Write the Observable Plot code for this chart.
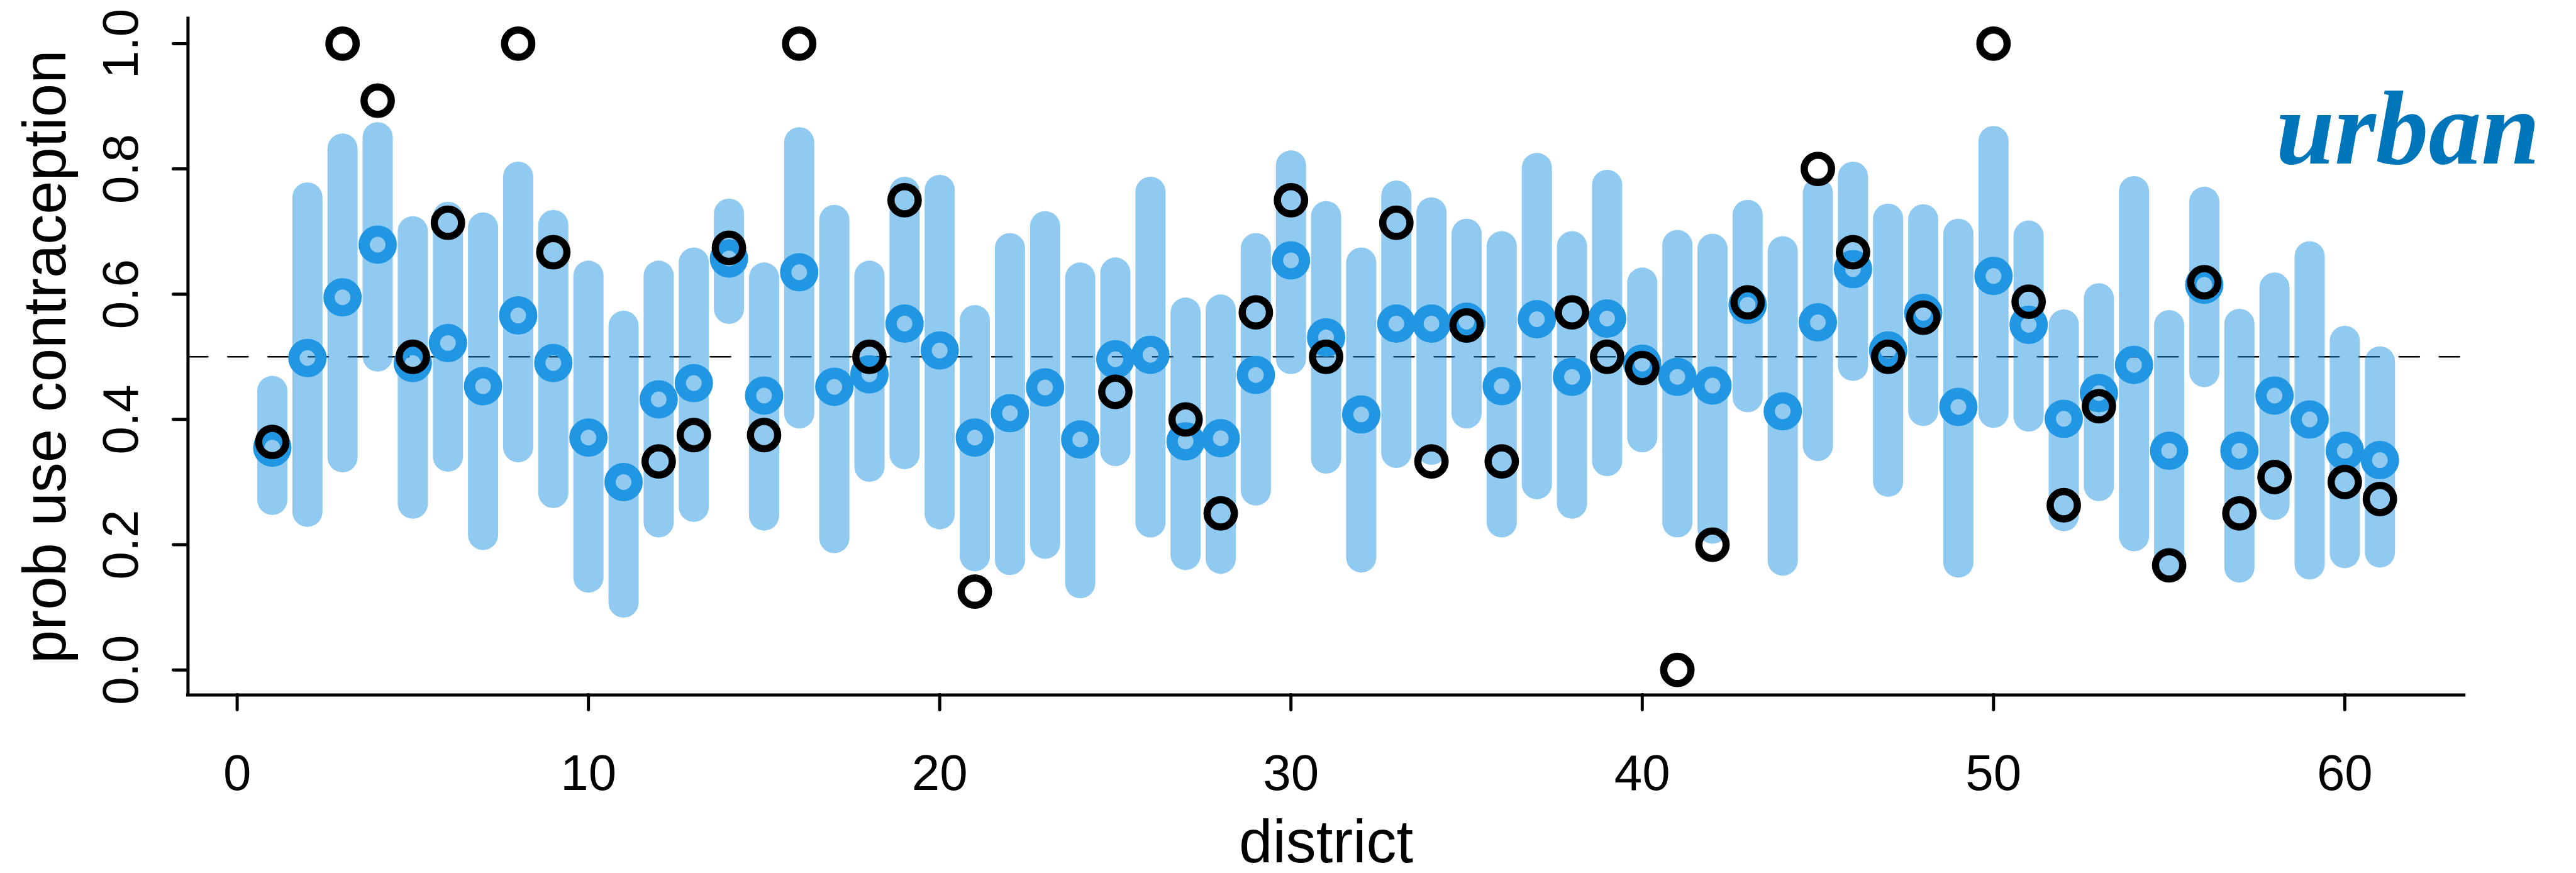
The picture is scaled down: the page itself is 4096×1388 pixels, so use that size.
<!DOCTYPE html>
<html>
<head>
<meta charset="utf-8">
<script src="https://cdn.jsdelivr.net/npm/d3@7"></script>
<script src="https://cdn.jsdelivr.net/npm/@observablehq/plot@0.6"></script>
<style>
  html, body { margin: 0; padding: 0; background: #ffffff; }
  #chart { width: 4096px; height: 1388px; overflow: hidden; }
  #chart svg { display: block; }
</style>
</head>
<body>
<div id="chart"></div>
<script>
// ---------------- data ----------------
const district = [1,2,3,4,5,6,7,8,9,10,11,12,13,14,15,16,17,18,19,20,21,22,23,24,25,26,27,28,29,30,31,32,33,34,35,36,37,38,39,40,41,42,43,44,45,46,47,48,49,50,51,52,53,54,55,56,57,58,59,60,61];

// posterior mean (blue rings)
const postMean = [0.355,0.498,0.595,0.679,0.490,0.522,0.453,0.566,0.490,0.371,
                  0.300,0.432,0.458,0.657,0.438,0.635,0.452,0.472,0.553,0.510,
                  0.371,0.410,0.451,0.368,0.496,0.503,0.365,0.370,0.471,0.654,
                  0.531,0.408,0.553,0.553,0.556,0.453,0.560,0.468,0.561,0.489,
                  0.468,0.454,0.583,0.413,0.555,0.640,0.510,0.570,0.420,0.629,
                  0.551,0.401,0.442,0.487,0.350,0.615,0.350,0.438,0.400,0.350,0.335];

// interval lower / upper bounds (light blue bars)
const intervalLo = [0.271,0.252,0.339,0.500,0.265,0.340,0.215,0.355,0.282,0.147,
                    0.107,0.235,0.260,0.576,0.246,0.409,0.210,0.324,0.344,0.248,
                    0.181,0.175,0.201,0.138,0.349,0.235,0.183,0.177,0.286,0.496,
                    0.337,0.179,0.346,0.351,0.409,0.235,0.296,0.265,0.333,0.371,
                    0.235,0.225,0.435,0.174,0.357,0.485,0.300,0.413,0.171,0.410,
                    0.404,0.245,0.293,0.213,0.174,0.475,0.163,0.263,0.168,0.186,0.187];
const intervalHi = [0.445,0.754,0.832,0.850,0.700,0.723,0.706,0.787,0.710,0.629,
                    0.549,0.629,0.650,0.728,0.626,0.842,0.718,0.629,0.763,0.766,
                    0.558,0.673,0.708,0.626,0.634,0.763,0.570,0.575,0.673,0.805,
                    0.724,0.650,0.757,0.730,0.696,0.676,0.801,0.676,0.774,0.618,
                    0.678,0.672,0.726,0.668,0.761,0.787,0.720,0.719,0.696,0.844,
                    0.693,0.551,0.593,0.764,0.550,0.747,0.552,0.610,0.660,0.525,0.492];

// observed proportion (black rings); null = no urban observations
const observed = [0.364,null,1.000,0.909,0.500,0.714,null,1.000,0.667,null,
                  null,0.333,0.375,0.674,0.375,1.000,null,0.500,0.750,null,
                  0.125,null,null,null,0.444,null,0.400,0.250,0.571,0.750,
                  0.500,null,0.714,0.333,0.550,0.333,null,0.571,0.500,0.482,
                  0.000,0.200,0.587,null,0.800,0.667,0.500,0.5625,null,1.000,
                  0.588,0.263,0.421,null,0.167,0.619,0.250,0.308,null,0.300,0.273];

const refLevel = [0.5];
const xTicks = [0,10,20,30,40,50,60];
const xTickLabels = ["0","10","20","30","40","50","60"];
const yTicks = [0,0.2,0.4,0.6,0.8,1.0];
const yTickLabels = ["0.0","0.2","0.4","0.6","0.8","1.0"];
const xDomain = [-1.4, 63.4];   // R default: 1..61 extended by 4%
const yDomain = [-0.04, 1.04];  // R default: 0..1 extended by 4%
const xTitle = "district";
const yTitle = "prob use contraception";
const panelLabel = "urban";

// ---------------- table for the library ----------------
const rows = district.map((d, i) => ({
  d, mean: postMean[i], lo: intervalLo[i], hi: intervalHi[i], obs: observed[i]
}));
const obsRows = rows.filter(r => r.obs !== null);

// ---------------- style ----------------
const s = 0.999;
const blue = "#2196E3";
const sans = "'Liberation Sans', Arial, Helvetica, sans-serif";

const chart = Plot.plot({
  width: 4097 * s,
  height: 1388 * s,
  marginLeft: 298.7 * s,
  marginRight: 175.3 * s,
  marginTop: 29.1 * s,
  marginBottom: 282.4 * s,
  x: {domain: xDomain},
  y: {domain: yDomain},
  style: {fontFamily: sans, background: "#ffffff", color: "#000000", overflow: "visible"},
  marks: [
    Plot.ruleY(refLevel, {stroke: "#000", strokeWidth: 2.7 * s,
      strokeDasharray: `${32 * s},${32 * s}`, strokeLinecap: "round"}),
    Plot.ruleX(rows, {x: "d", y1: "lo", y2: "hi", stroke: blue, strokeOpacity: 0.5,
      strokeWidth: 48 * s, strokeLinecap: "round"}),
    Plot.dot(rows, {x: "d", y: "mean", r: 21.5 * s, stroke: blue, strokeWidth: 18 * s, fill: "none"}),
    Plot.dot(obsRows, {x: "d", y: "obs", r: 21.7 * s, stroke: "#000", strokeWidth: 11.5 * s, fill: "none"}),
    Plot.ruleX([xDomain[0]], {stroke: "#000", strokeWidth: 5 * s, strokeLinecap: "square"}),
    Plot.ruleY([yDomain[0]], {stroke: "#000", strokeWidth: 5 * s, strokeLinecap: "square"}),
    Plot.axisX({ticks: xTicks, tickFormat: d => xTickLabels[xTicks.indexOf(d)],
      tickSize: 24 * s, tickPadding: 70.4 * s, fontSize: 80 * s,
      strokeWidth: 5 * s, strokeLinecap: "round", label: null}),
    Plot.axisY({ticks: yTicks, tickFormat: d => yTickLabels[yTicks.indexOf(d)],
      tickSize: 23 * s, tickPadding: 56.7 * s, tickRotate: -90, fontSize: 80 * s,
      strokeWidth: 5 * s, strokeLinecap: "round", label: null}),
    Plot.text([xTitle], {frameAnchor: "bottom", dy: 266.1 * s, fontSize: 96 * s,
      textAnchor: "middle", lineAnchor: "bottom", fill: "#000"}),
    Plot.text([yTitle], {frameAnchor: "left", dx: -194.7 * s, rotate: -90, fontSize: 96 * s,
      textAnchor: "middle", lineAnchor: "bottom", fill: "#000"}),
    Plot.text([panelLabel], {frameAnchor: "top-right", dx: -299.7 * s, dy: 230.9 * s,
      fontFamily: "'Liberation Serif', 'Times New Roman', serif", fontWeight: "bold",
      fontStyle: "italic", fontSize: 168 * s, fill: "#0076BA",
      textAnchor: "start", lineAnchor: "bottom"})
  ]
});
document.getElementById("chart").appendChild(chart);
</script>
</body>
</html>
